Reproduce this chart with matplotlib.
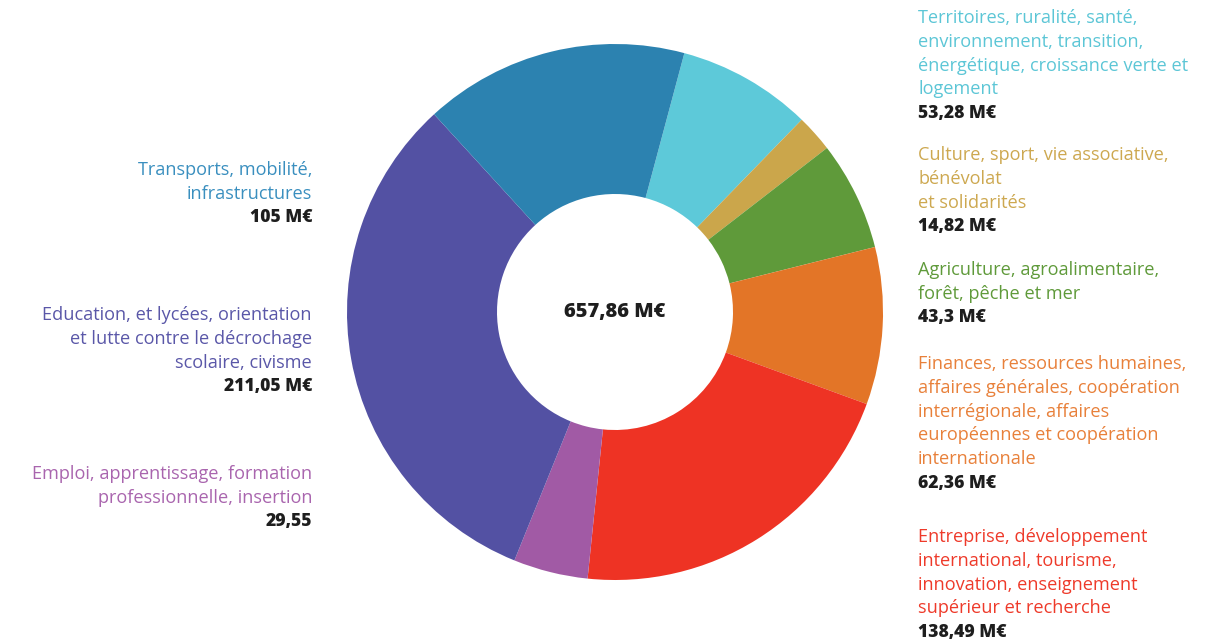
import matplotlib
matplotlib.use("Agg")
import matplotlib.pyplot as plt

# ---- data ----
categories = [
    "Territoires, ruralité, santé,\nenvironnement, transition,\nénergétique, croissance verte et\nlogement",
    "Culture, sport, vie associative,\nbénévolat\net solidarités",
    "Agriculture, agroalimentaire,\nforêt, pêche et mer",
    "Finances, ressources humaines,\naffaires générales, coopération\ninterrégionale, affaires\neuropéennes et coopération\ninternationale",
    "Entreprise, développement\ninternational, tourisme,\ninnovation, enseignement\nsupérieur et recherche",
    "Emploi, apprentissage, formation\nprofessionnelle, insertion",
    "Education, et lycées, orientation\net lutte contre le décrochage\nscolaire, civisme",
    "Transports, mobilité,\ninfrastructures",
]
values = [53.28, 14.82, 43.3, 62.36, 138.49, 29.55, 211.05, 105]
value_labels = ["53,28 M€", "14,82 M€", "43,3 M€", "62,36 M€",
                "138,49 M€", "29,55", "211,05 M€", "105 M€"]
total_label = "657,86 M€"

# ---- styles ----
colors = ["#5DC9D9", "#CBA64B", "#5F9A3A", "#E37527", "#EE3324",
          "#A15AA5", "#5351A3", "#2C82B0"]
text_colors = ["#5CC6D6", "#CDA850", "#5F9A3A", "#E8803A", "#EE3A2A",
               "#A965AE", "#5A57A8", "#3A8FBF"]
# (x px, y px of first line centre, alignment)
label_pos = [(918, 18, "left"), (918, 155, "left"), (918, 270, "left"),
             (918, 364, "left"), (918, 537, "left"), (312, 474, "right"),
             (312, 315, "right"), (312, 170, "right")]

W, H = 1230, 643
fig = plt.figure(figsize=(W / 100, H / 100), dpi=100)
fig.patch.set_facecolor("white")

cx, cy, R = 615, 312, 268
ax = fig.add_axes([(cx - R) / W, (H - cy - R) / H, 2 * R / W, 2 * R / H])
ax.pie(values, colors=colors, startangle=75, counterclock=False, radius=1,
       wedgeprops=dict(width=1 - 118 / 268, edgecolor="none", linewidth=0))
ax.set_xlim(-1, 1)
ax.set_ylim(-1, 1)
ax.set_aspect("equal")
ax.axis("off")

FONT = "Open Sans"
FS = 13.1
FSB = 12.6
LH = 23.8

for cat, vl, tc, (x, y, ha) in zip(categories, value_labels, text_colors, label_pos):
    lines = cat.split("\n")
    for i, ln in enumerate(lines):
        fig.text(x / W, 1 - (y + i * LH) / H, ln, ha=ha, va="center",
                 color=tc, fontsize=FS, family=FONT)
    fig.text(x / W, 1 - (y + len(lines) * LH) / H, vl, ha=ha, va="center",
             color="#1E1E1E", fontsize=FSB, family=FONT, fontweight=800)

fig.text(cx / W, 1 - cy / H, total_label, ha="center", va="center",
         color="#1E1E1E", fontsize=14.5, family=FONT, fontweight=800)

fig.savefig("out.png", dpi=100, facecolor="white")
